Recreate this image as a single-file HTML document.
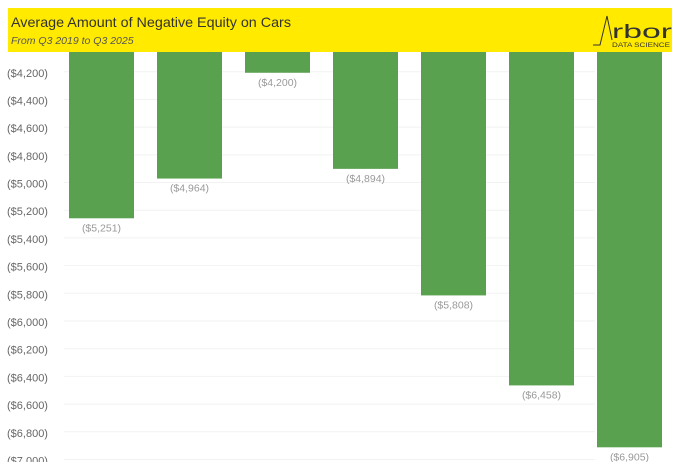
<!DOCTYPE html>
<html><head><meta charset="utf-8"><style>
body{margin:0;background:#fff;width:680px;height:462px;overflow:hidden;font-family:"Liberation Sans",sans-serif}
</style></head><body>
<svg id="chart" width="680" height="462" xmlns="http://www.w3.org/2000/svg">
<rect x="8" y="8" width="664" height="44" fill="#ffea00"/>
<text x="11" y="27" font-size="14" fill="#333" textLength="280" lengthAdjust="spacingAndGlyphs">Average Amount of Negative Equity on Cars</text>
<text x="11" y="44" font-size="10.5" font-style="italic" fill="#555">From Q3 2019 to Q3 2025</text>
<g>
<path d="M593 45 L600 45 L607 16 L612 40" fill="none" stroke="#333" stroke-width="1"/>
<text x="612" y="38" font-size="19" fill="#333" textLength="60" lengthAdjust="spacingAndGlyphs">rbor</text>
<text x="612" y="47" font-size="6.5" fill="#333" textLength="58" lengthAdjust="spacingAndGlyphs">DATA SCIENCE</text>
</g>
<g id="grid"></g><g id="yaxis"></g><g id="bars"></g>
</svg>
<script>
const categories=["Q3 2019","Q3 2020","Q3 2021","Q3 2022","Q3 2023","Q3 2024","Q3 2025"];
const values=[5251,4964,4200,4894,5808,6458,6905];
const ticks=[4200,4400,4600,4800,5000,5200,5400,5600,5800,6000,6200,6400,6600,6800,7000];
const NS="http://www.w3.org/2000/svg";
const top0=52, vMin=4050, pxPer=360/2600;
function y(v){return top0+(v-vMin)*pxPer;}
function x(i){return 69+i*88;}
const bw=65;
function mk(t,a,p){const e=document.createElementNS(NS,t);for(const k in a)e.setAttribute(k,a[k]);document.getElementById(p).appendChild(e);return e;}
function fmt(v){return "($"+v.toLocaleString("en-US")+")";}
ticks.forEach(t=>{
 const g=mk("line",{x1:64,x2:595,y1:y(t)-1,y2:y(t)-1,stroke:"#f2f2f2","stroke-width":1},"grid");
 
 
 const l=mk("text",{x:7,y:y(t)+4,"font-size":11,fill:"#666"},"yaxis");
 l.textContent=fmt(t);
 
 
});
values.forEach((v,i)=>{
 const r=mk("rect",{x:x(i),y:top0,width:bw,height:y(v)-top0,fill:"#59a14f"},"bars");
 
 
 const t=mk("text",{x:x(i)+bw/2,y:y(v)+13,"font-size":10.5,fill:"#999","text-anchor":"middle"},"bars");
 t.textContent=fmt(v);
 
 
});
</script>
</body></html>
